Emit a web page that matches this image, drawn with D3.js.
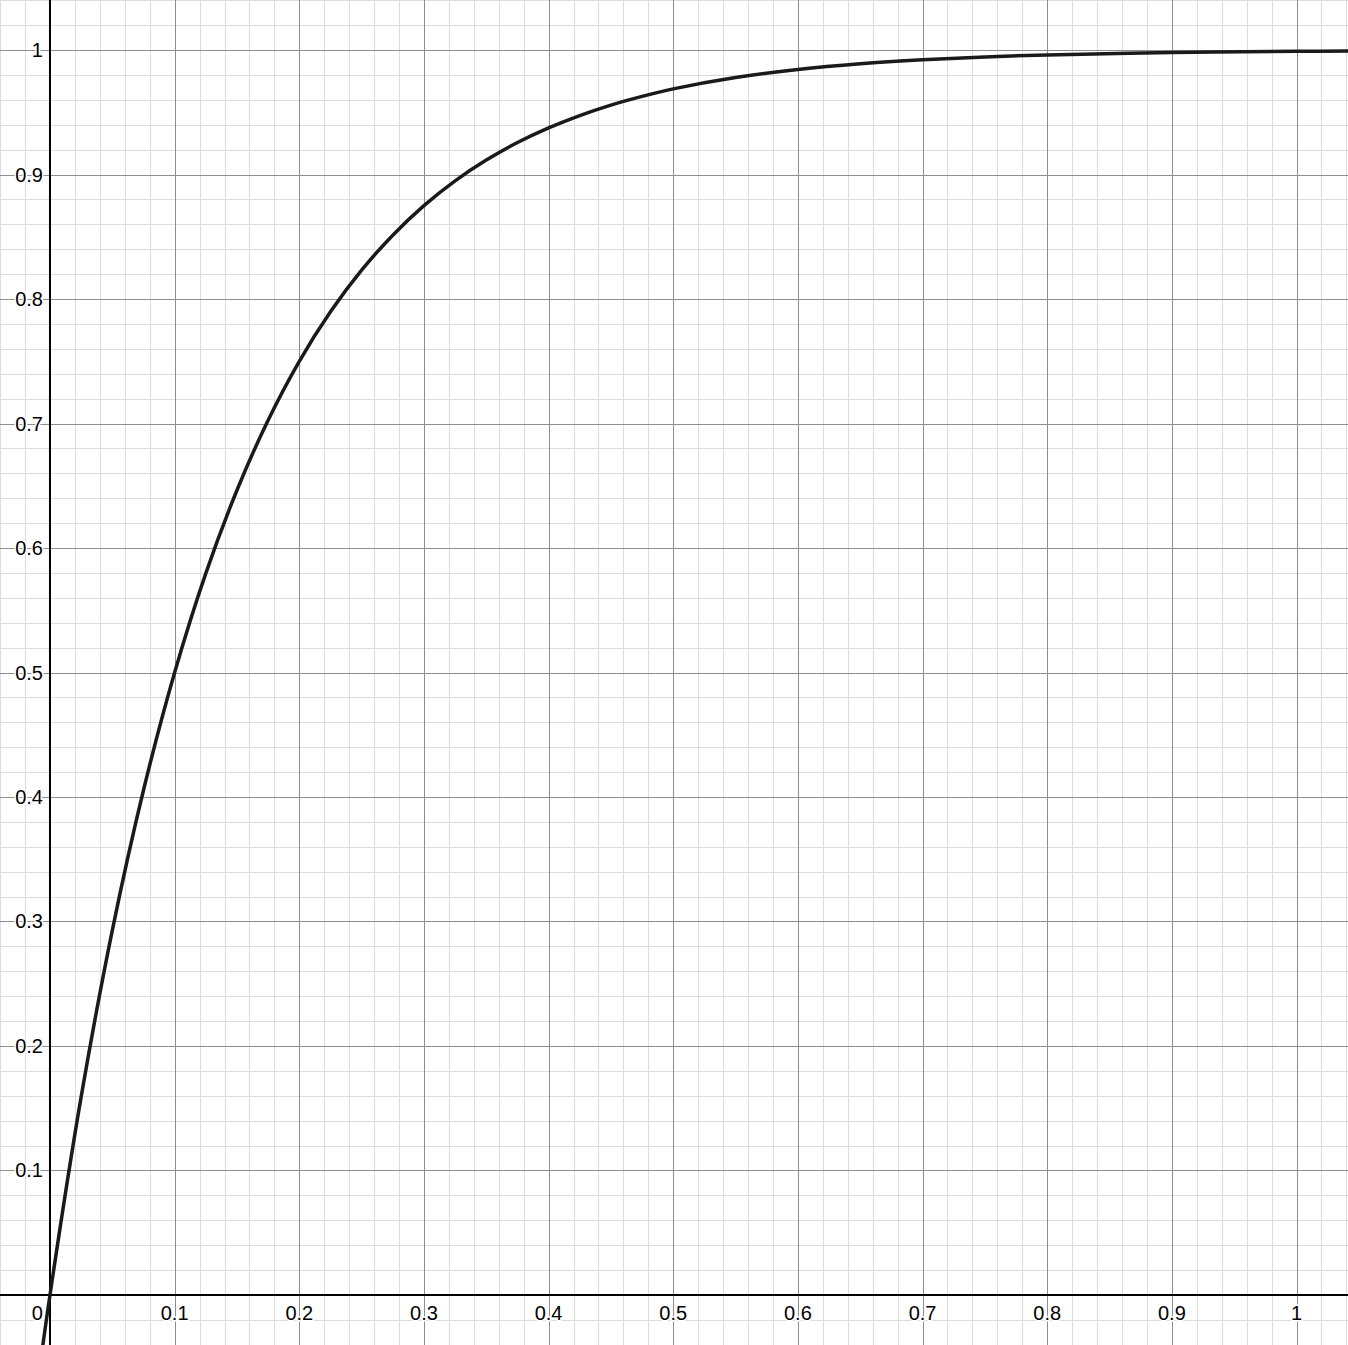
<!DOCTYPE html>
<html>
<head>
<meta charset="utf-8">
<script src="https://cdn.jsdelivr.net/npm/d3@7"></script>
<style>
  body { margin: 0; background: #fff; }
  svg { display: block; }
  text { font-family: "Liberation Sans", Arial, Helvetica, sans-serif; }
</style>
</head>
<body>
<svg id="chart"></svg>
<script>
const WIDTH = 1348;
const HEIGHT = 1345;

// viewport of the graph (data units)
const X_DOMAIN = [-0.0401, 1.0413];
const Y_DOMAIN = [-0.0402, 1.0402];

// tick labels
const xTickValues = [0.1, 0.2, 0.3, 0.4, 0.5, 0.6, 0.7, 0.8, 0.9, 1];
const xTickLabels = ["0.1", "0.2", "0.3", "0.4", "0.5", "0.6", "0.7", "0.8", "0.9", "1"];
const yTickValues = [0.1, 0.2, 0.3, 0.4, 0.5, 0.6, 0.7, 0.8, 0.9, 1];
const yTickLabels = ["0.1", "0.2", "0.3", "0.4", "0.5", "0.6", "0.7", "0.8", "0.9", "1"];

// curve points
const curveX = [-0.01, 0, 0.025, 0.05, 0.075, 0.1, 0.125, 0.15, 0.175, 0.2, 0.225, 0.25,
                0.275, 0.3, 0.325, 0.35, 0.375, 0.4, 0.425, 0.45, 0.475, 0.5, 0.55, 0.6,
                0.65, 0.7, 0.75, 0.8, 0.9, 1.0, 1.05];
const curveY = [-0.0718, 0, 0.1591, 0.2929, 0.4054, 0.5, 0.5796, 0.6464, 0.7027, 0.75, 0.7898, 0.8232,
                0.8513, 0.875, 0.8949, 0.9116, 0.9257, 0.9375, 0.9474, 0.9558, 0.9628, 0.9688, 0.9779, 0.9844,
                0.9890, 0.9922, 0.9945, 0.9961, 0.9980, 0.9990, 0.9993];

const MAJOR = 0.1;
const MINOR = 0.02;

const xScale = d3.scaleLinear().domain(X_DOMAIN).range([0, WIDTH]);
const yScale = d3.scaleLinear().domain(Y_DOMAIN).range([HEIGHT, 0]);

const svg = d3.select("#chart").attr("width", WIDTH).attr("height", HEIGHT);

function gridValues(domain, step) {
	const out = [];
	const start = Math.ceil(domain[0] / step);
	const end = Math.floor(domain[1] / step);
	for (let i = start; i <= end; i++) out.push(+(i * step).toFixed(4));
	return out;
}

// Minor grid
const minorX = gridValues(X_DOMAIN, MINOR);
const minorY = gridValues(Y_DOMAIN, MINOR);
const minorG = svg.append("g").attr("stroke", "#dcdcdc").attr("stroke-width", 1);
minorG.selectAll("line.vx").data(minorX).enter().append("line")
	.attr("x1", d => Math.round(xScale(d)) + 0.5).attr("x2", d => Math.round(xScale(d)) + 0.5)
	.attr("y1", 0).attr("y2", HEIGHT);
minorG.selectAll("line.hy").data(minorY).enter().append("line")
	.attr("y1", d => Math.round(yScale(d)) + 0.5).attr("y2", d => Math.round(yScale(d)) + 0.5)
	.attr("x1", 0).attr("x2", WIDTH);

// Major grid
const majorX = gridValues(X_DOMAIN, MAJOR);
const majorY = gridValues(Y_DOMAIN, MAJOR);
const majorG = svg.append("g").attr("stroke", "#8e8e8e").attr("stroke-width", 1);
majorG.selectAll("line.vx").data(majorX).enter().append("line")
	.attr("x1", d => Math.round(xScale(d)) + 0.5).attr("x2", d => Math.round(xScale(d)) + 0.5)
	.attr("y1", 0).attr("y2", HEIGHT);
majorG.selectAll("line.hy").data(majorY).enter().append("line")
	.attr("y1", d => Math.round(yScale(d)) + 0.5).attr("y2", d => Math.round(yScale(d)) + 0.5)
	.attr("x1", 0).attr("x2", WIDTH);

// Axes
svg.append("line")
	.attr("x1", 0).attr("x2", WIDTH)
	.attr("y1", yScale(0)).attr("y2", yScale(0))
	.attr("stroke", "#000").attr("stroke-width", 2);
svg.append("line")
	.attr("x1", xScale(0)).attr("x2", xScale(0))
	.attr("y1", 0).attr("y2", HEIGHT)
	.attr("stroke", "#000").attr("stroke-width", 2);

// Curve
const points = curveX.map((x, i) => [x, curveY[i]]);
const line = d3.line()
	.x(d => xScale(d[0]))
	.y(d => yScale(d[1]))
	.curve(d3.curveCatmullRom.alpha(0.5));

svg.append("path")
	.datum(points)
	.attr("d", line)
	.attr("fill", "none")
	.attr("stroke", "#1a1a1a")
	.attr("stroke-width", 3.5)
	.attr("stroke-linejoin", "round");

// Tick labels (white halo behind, like the grapher does)
const labelG = svg.append("g").attr("font-size", 20).attr("fill", "#000");

function haloText(sel) {
	sel.clone(true).lower()
		.attr("fill", "none").attr("stroke", "#fff").attr("stroke-width", 3)
		.attr("stroke-linejoin", "round");
}

labelG.selectAll("text.x").data(xTickValues).enter().append("text")
	.attr("x", d => xScale(d))
	.attr("y", yScale(0) + 25)
	.attr("text-anchor", "middle")
	.text((d, i) => xTickLabels[i])
	.each(function() { haloText(d3.select(this)); });

labelG.selectAll("text.y").data(yTickValues).enter().append("text")
	.attr("x", xScale(0) - 7)
	.attr("y", d => yScale(d) + 7)
	.attr("text-anchor", "end")
	.text((d, i) => yTickLabels[i])
	.each(function() { haloText(d3.select(this)); });

labelG.append("text")
	.attr("x", xScale(0) - 7)
	.attr("y", yScale(0) + 25)
	.attr("text-anchor", "end")
	.text("0")
	.each(function() { haloText(d3.select(this)); });
</script>
</body>
</html>
